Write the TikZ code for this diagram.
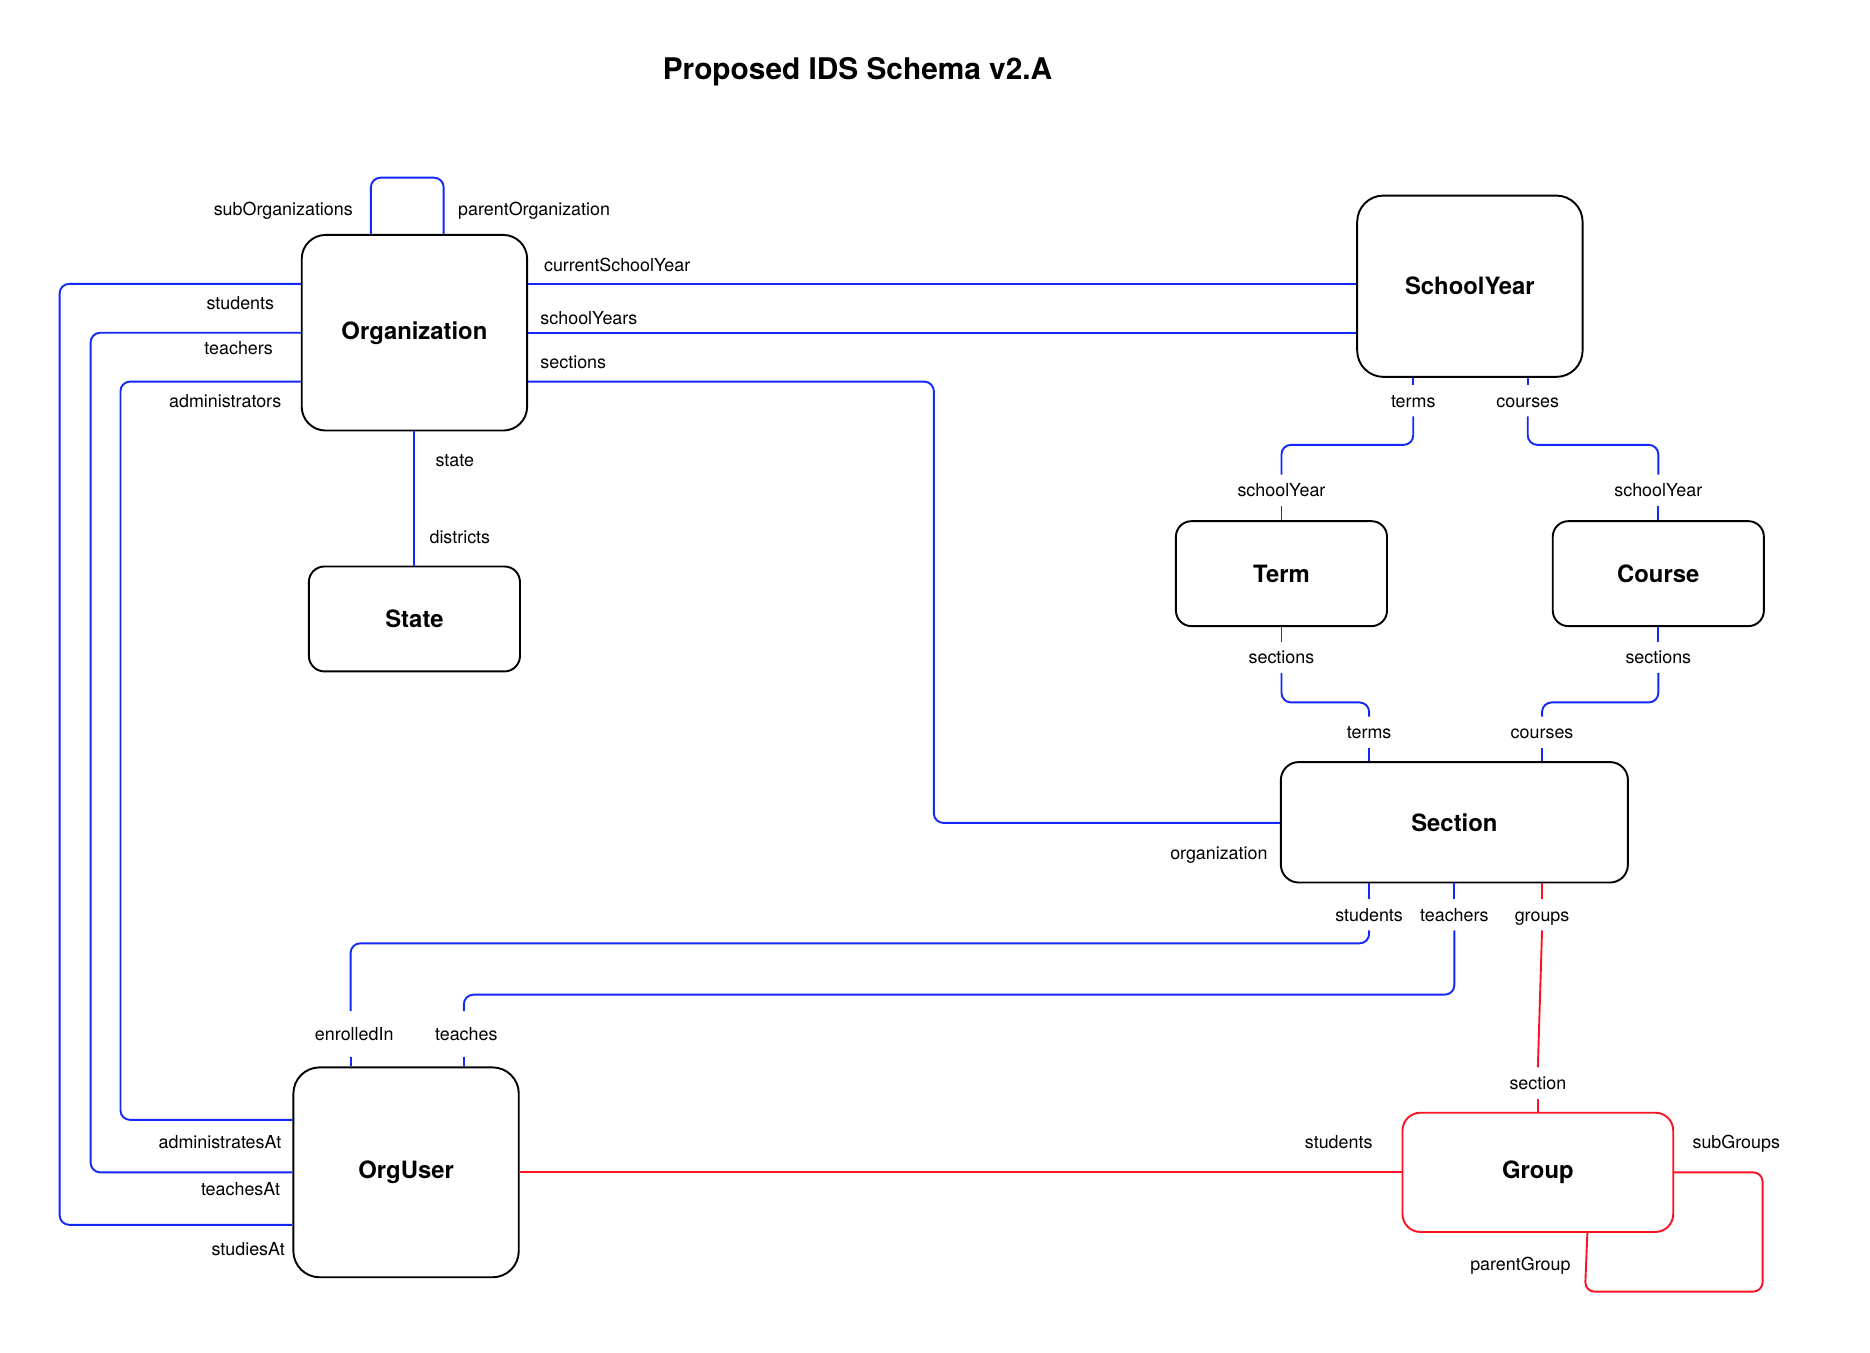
\documentclass[tikz,border=0pt]{standalone}
\usepackage{fontspec}
\setmainfont{TeX Gyre Heros}
\definecolor{lnblue}{RGB}{20,40,250}
\definecolor{lnred}{RGB}{250,20,35}
\begin{document}
\begin{tikzpicture}[x=1pt,y=-1pt,
  entity/.style={draw=black,line width=1.6pt,rectangle,rounded corners=#1,
    font=\fontsize{20}{24}\selectfont\bfseries,inner sep=0pt},
  entity/.default=18pt,
  lbl/.style={font=\fontsize{15}{18}\selectfont,inner xsep=2pt,inner ysep=7.5pt,
    text height=10.8pt,text depth=0pt},
  bl/.style={draw=lnblue,line width=1.6pt,rounded corners=8pt},
  rd/.style={draw=lnred,line width=1.6pt,rounded corners=8pt}]
\useasboundingbox (0,0) rectangle (1568,1134);

% title
\node[font=\fontsize{25}{30}\selectfont\bfseries] (title) at (719,60) {Proposed IDS Schema v2.A};

% entities
\node[entity=20pt,minimum width=189pt,minimum height=164pt] (org) at (347.5,279) {Organization};
\node[entity=22pt,minimum width=189pt,minimum height=152pt] (sy) at (1232.5,240) {SchoolYear};
\node[entity=13pt,minimum width=177pt,minimum height=88pt] (term) at (1074.5,481) {Term};
\node[entity=13pt,minimum width=177pt,minimum height=88pt] (course) at (1390.5,481) {Course};
\node[entity=13pt,minimum width=177pt,minimum height=88pt] (state) at (347.5,519) {State};
\node[entity=15pt,minimum width=291pt,minimum height=101pt] (sec) at (1219.5,689.5) {Section};
\node[entity=22pt,minimum width=189pt,minimum height=176pt] (ou) at (340.5,983) {OrgUser};
\node[entity=15pt,draw=lnred,minimum width=227pt,minimum height=100pt] (gr) at (1289.5,983) {Group};

% Organization self loop
\draw[bl] (311,0 |- org.north) -- (311,149) -- (372,149) -- (372,0 |- org.north);
\node[lbl,anchor=east] (lsubo) at (298,175) {subOrganizations};
\node[lbl,anchor=west] (lparo) at (382,175) {parentOrganization};

% Organization -> SchoolYear
\draw[bl] (org.east |- 0,238) -- (sy.west |- 0,238);
\node[lbl,anchor=west] (lcsy) at (454,222) {currentSchoolYear};
\draw[bl] (org.east |- 0,279) -- (sy.west |- 0,279);
\node[lbl,anchor=west] (lsys) at (451,267) {schoolYears};

% Organization -> Section
\draw[bl] (org.east |- 0,320) -- (783,320) -- (783,690) -- (sec.west |- 0,690);
\node[lbl,anchor=west] (lsecs) at (451,304) {sections};
\node[lbl,anchor=east] (lorg) at (1065,715) {organization};

% Organization -> OrgUser
\draw[bl] (org.west |- 0,238) -- (50,238) -- (50,1027) -- (ou.west |- 0,1027);
\node[lbl,anchor=east] (lstu) at (232,254) {students};
\node[lbl,anchor=east] (lstud) at (241,1047) {studiesAt};
\draw[bl] (org.west |- 0,279) -- (76,279) -- (76,983) -- (ou.west |- 0,983);
\node[lbl,anchor=east] (ltea) at (231,292) {teachers};
\node[lbl,anchor=east] (lteaat) at (237,997) {teachesAt};
\draw[bl] (org.west |- 0,320) -- (101,320) -- (101,939) -- (ou.west |- 0,939);
\node[lbl,anchor=east] (ladm) at (238,336) {administrators};
\node[lbl,anchor=east] (ladmat) at (238,958) {administratesAt};

% Organization -> State
\draw[bl] (org.south) -- (state.north);
\node[lbl,anchor=west] (lstate) at (363,386) {state};
\node[lbl,anchor=west] (ldist) at (358,450) {districts};

% SchoolYear -> Term
\node[lbl] (lsyterms) at (1185,336) {terms};
\node[lbl] (ltermsy) at (1074.5,411) {schoolYear};
\draw[bl] (lsyterms.north |- sy.south) -- (lsyterms.north);
\draw[bl] (lsyterms.south) -- (lsyterms.south |- 0,373) -- (ltermsy.north |- 0,373) -- (ltermsy.north);
\draw[bl] (ltermsy.south) -- (term.north);

% SchoolYear -> Course
\node[lbl] (lsycourses) at (1281,336) {courses};
\node[lbl] (lcoursesy) at (1390.5,411) {schoolYear};
\draw[bl] (lsycourses.north |- sy.south) -- (lsycourses.north);
\draw[bl] (lsycourses.south) -- (lsycourses.south |- 0,373) -- (lcoursesy.north |- 0,373) -- (lcoursesy.north);
\draw[bl] (lcoursesy.south) -- (course.north);

% Term -> Section
\node[lbl] (ltermsec) at (1074.5,551) {sections};
\node[lbl] (lsecterms) at (1148,614) {terms};
\draw[bl] (term.south) -- (ltermsec.north);
\draw[bl] (ltermsec.south) -- (ltermsec.south |- 0,589) -- (lsecterms.north |- 0,589) -- (lsecterms.north);
\draw[bl] (lsecterms.south) -- (lsecterms.south |- sec.north);

% Course -> Section
\node[lbl] (lcoursesec) at (1390.5,551) {sections};
\node[lbl] (lseccourses) at (1293,614) {courses};
\draw[bl] (course.south) -- (lcoursesec.north);
\draw[bl] (lcoursesec.south) -- (lcoursesec.south |- 0,589) -- (lseccourses.north |- 0,589) -- (lseccourses.north);
\draw[bl] (lseccourses.south) -- (lseccourses.south |- sec.north);

% Section -> OrgUser
\node[lbl] (lsecstu) at (1148,767) {students};
\node[lbl] (lsectea) at (1219.5,767) {teachers};
\node[lbl] (lsecgrp) at (1293,767) {groups};
\node[lbl,inner ysep=13.5pt] (lenr) at (297,867) {enrolledIn};
\node[lbl,inner ysep=13.5pt] (lteaches) at (391,867) {teaches};
\draw[bl] (lsecstu.north |- sec.south) -- (lsecstu.north);
\draw[bl] (lsecstu.south) -- (lsecstu.south |- 0,791) -- (294,791) -- (294,0 |- lenr.north);
\draw[bl] (294,0 |- lenr.south) -- (294,0 |- ou.north);
\draw[bl] (lsectea.north |- sec.south) -- (lsectea.north);
\draw[bl] (lsectea.south) -- (lsectea.south |- 0,834) -- (389,834) -- (389,0 |- lteaches.north);
\draw[bl] (389,0 |- lteaches.south) -- (389,0 |- ou.north);

% Section -> Group
\node[lbl] (lgrpsec) at (1289.5,908) {section};
\draw[rd] (lsecgrp.north |- sec.south) -- (lsecgrp.north);
\draw[rd] (lsecgrp.south) -- (lgrpsec.north);
\draw[rd] (lgrpsec.south) -- (gr.north);

% OrgUser -> Group
\draw[rd] (ou.east) -- (gr.west);
\node[lbl,anchor=east] (lgrpstu) at (1153,958) {students};

% Group self loop
\draw[rd] (gr.east) -- (1478,983) -- (1478,1083) -- (1329,1083) -- (1331,0 |- gr.south);
\node[lbl,anchor=west] (lsubg) at (1417,958) {subGroups};
\node[lbl,anchor=east] (lparg) at (1319,1060) {parentGroup};
\end{tikzpicture}
\end{document}
